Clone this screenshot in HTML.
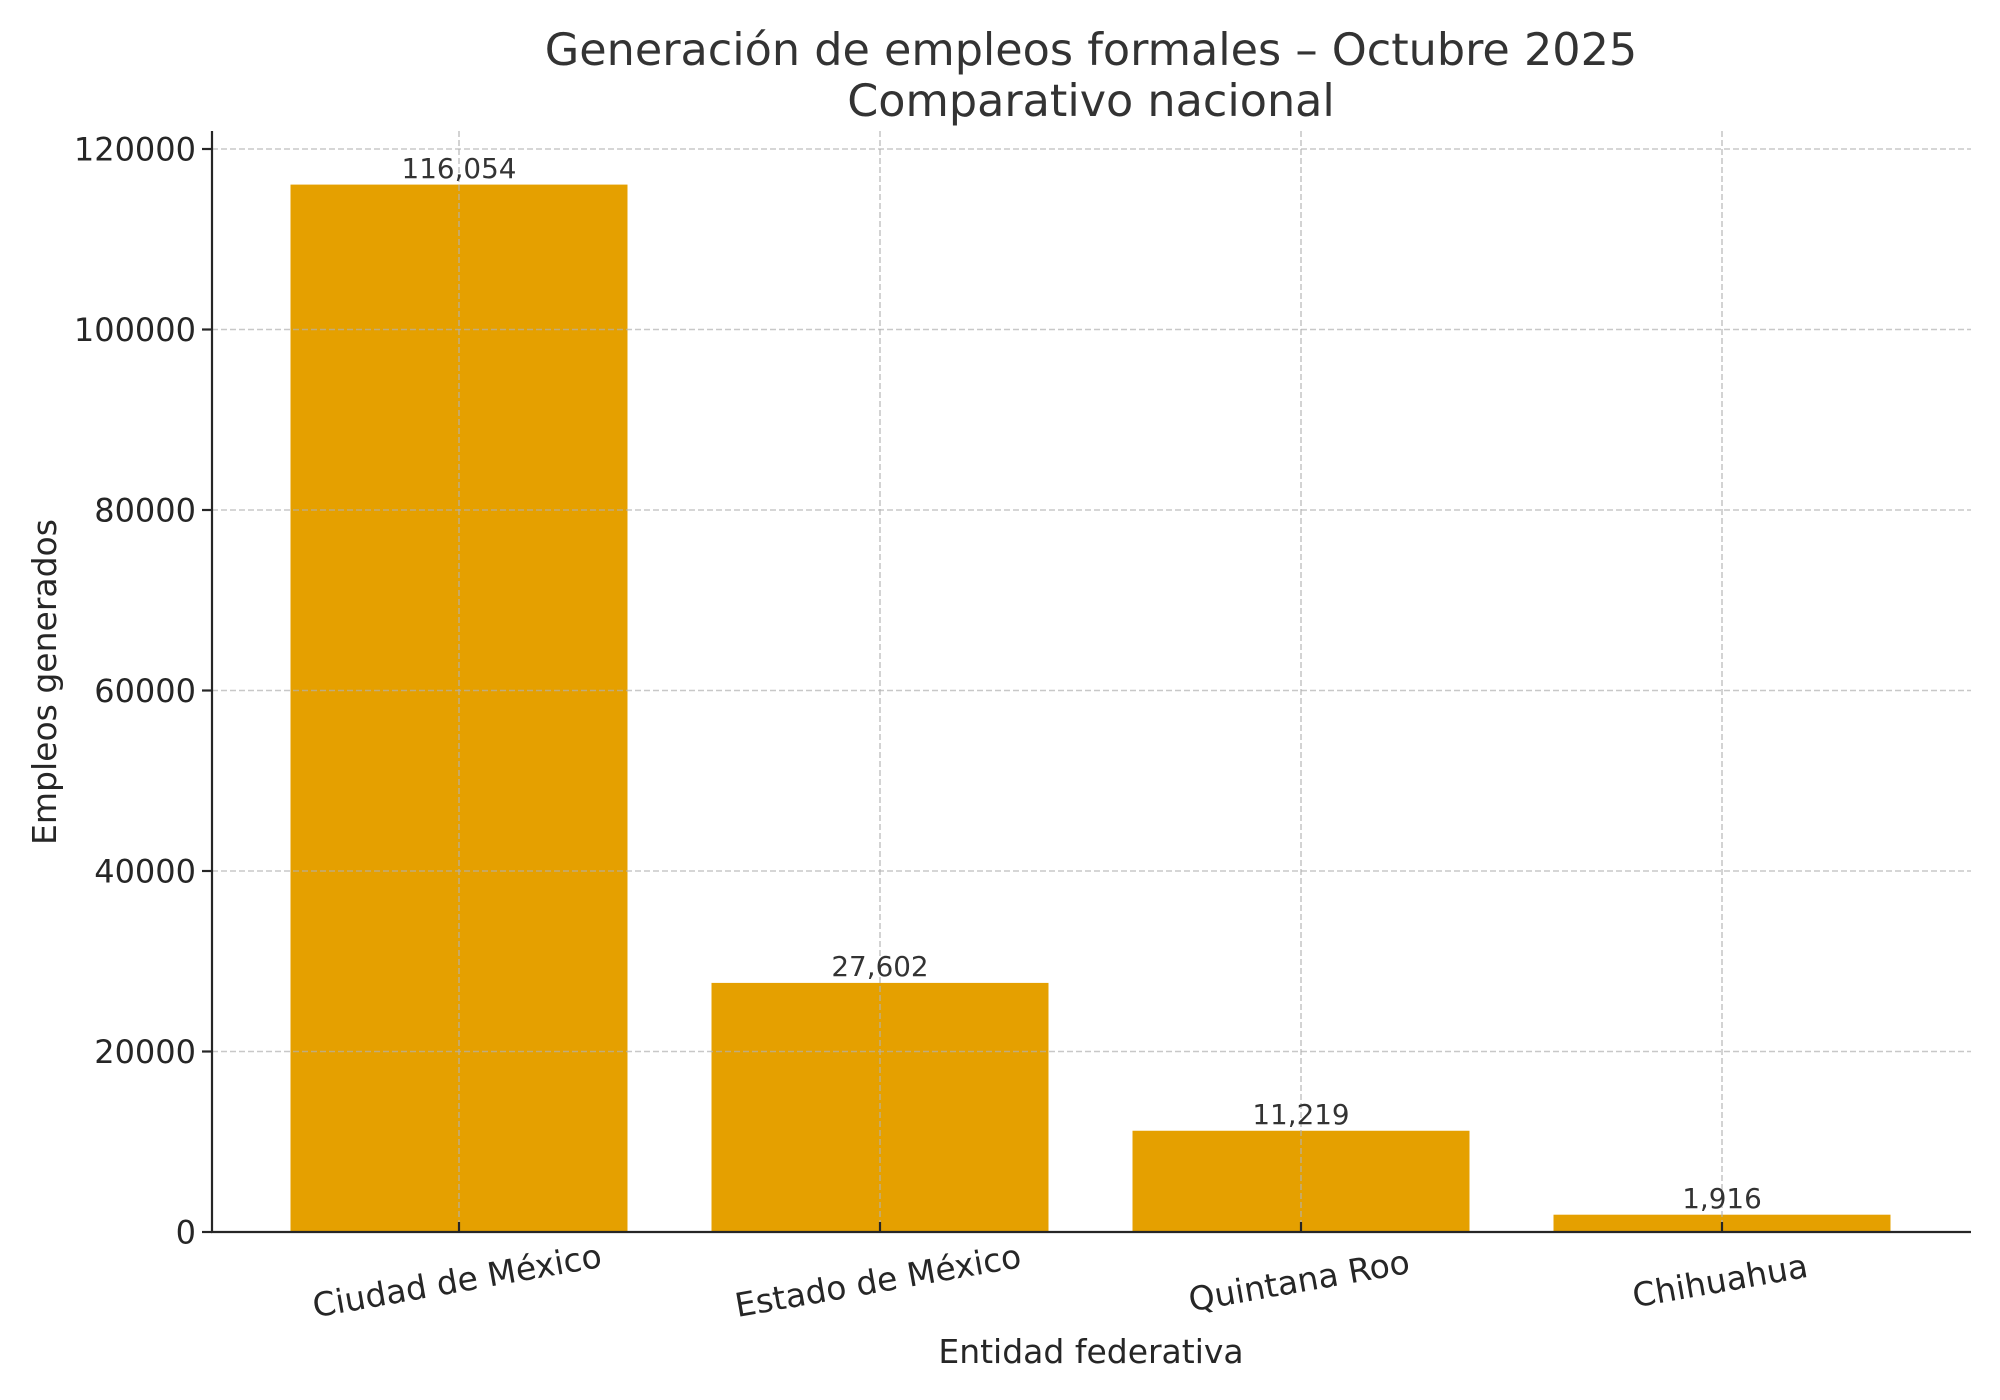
<!DOCTYPE html>
<html><head><meta charset="utf-8"><style>
html,body{margin:0;padding:0;background:#fff;}
svg{display:block;}
text{font-family:"DejaVu Sans","Liberation Sans",sans-serif;}
</style></head><body>
<svg width="2000" height="1400" viewBox="0 0 2000 1400" xmlns="http://www.w3.org/2000/svg">
<rect width="2000" height="1400" fill="#fff"/>
<g fill="#e5a000">
<rect x="290.5" y="184.6" width="337" height="1047.4"/>
<rect x="711.5" y="982.9" width="337" height="249.1"/>
<rect x="1132.5" y="1130.75" width="337" height="101.25"/>
<rect x="1553.5" y="1214.7" width="337" height="17.3"/>
</g>
<g stroke="#b0b0b0" stroke-opacity="0.7" stroke-width="1.6" stroke-dasharray="6,3" fill="none">
<line x1="212" x2="1971" y1="1051.5" y2="1051.5"/>
<line x1="212" x2="1971" y1="871" y2="871"/>
<line x1="212" x2="1971" y1="690.5" y2="690.5"/>
<line x1="212" x2="1971" y1="510" y2="510"/>
<line x1="212" x2="1971" y1="329.5" y2="329.5"/>
<line x1="212" x2="1971" y1="149" y2="149"/>
<line x1="459" x2="459" y1="131" y2="1232"/>
<line x1="880" x2="880" y1="131" y2="1232"/>
<line x1="1301" x2="1301" y1="131" y2="1232"/>
<line x1="1722" x2="1722" y1="131" y2="1232"/>
</g>
<g stroke="#262626" stroke-width="2.2" fill="none">
<line x1="212" x2="212" y1="131" y2="1233"/>
<line x1="211" x2="1971" y1="1232" y2="1232"/>
<line x1="212" x2="202" y1="1232" y2="1232"/>
<line x1="212" x2="202" y1="1051.5" y2="1051.5"/>
<line x1="212" x2="202" y1="871" y2="871"/>
<line x1="212" x2="202" y1="690.5" y2="690.5"/>
<line x1="212" x2="202" y1="510" y2="510"/>
<line x1="212" x2="202" y1="329.5" y2="329.5"/>
<line x1="212" x2="202" y1="149" y2="149"/>
<line x1="459" x2="459" y1="1232" y2="1222"/>
<line x1="880" x2="880" y1="1232" y2="1222"/>
<line x1="1301" x2="1301" y1="1232" y2="1222"/>
<line x1="1722" x2="1722" y1="1232" y2="1222"/>
</g>
<g fill="#262626" font-size="32" text-anchor="end">
<text x="196" y="1243.5">0</text>
<text x="196" y="1063">20000</text>
<text x="196" y="882.5">40000</text>
<text x="196" y="702">60000</text>
<text x="196" y="521.5">80000</text>
<text x="196" y="341">100000</text>
<text x="196" y="160.5">120000</text>
</g>
<g fill="#333" font-size="27.8" text-anchor="middle">
<text x="459" y="178">116,054</text>
<text x="880" y="976">27,602</text>
<text x="1301" y="1124">11,219</text>
<text x="1722" y="1208">1,916</text>
</g>
<g fill="#262626" font-size="33" text-anchor="middle">
<text transform="translate(459,1292) rotate(-10)">Ciudad de México</text>
<text transform="translate(880,1292) rotate(-10)">Estado de México</text>
<text transform="translate(1301,1292) rotate(-10)">Quintana Roo</text>
<text transform="translate(1722,1292) rotate(-10)">Chihuahua</text>
<text x="1091" y="1363">Entidad federativa</text>
<text transform="translate(56,682) rotate(-90)">Empleos generados</text>
</g>
<g fill="#333" font-size="44.5" text-anchor="middle">
<text x="1091" y="65">Generación de empleos formales – Octubre 2025</text>
<text x="1091" y="116">Comparativo nacional</text>
</g>
</svg>
</body></html>
